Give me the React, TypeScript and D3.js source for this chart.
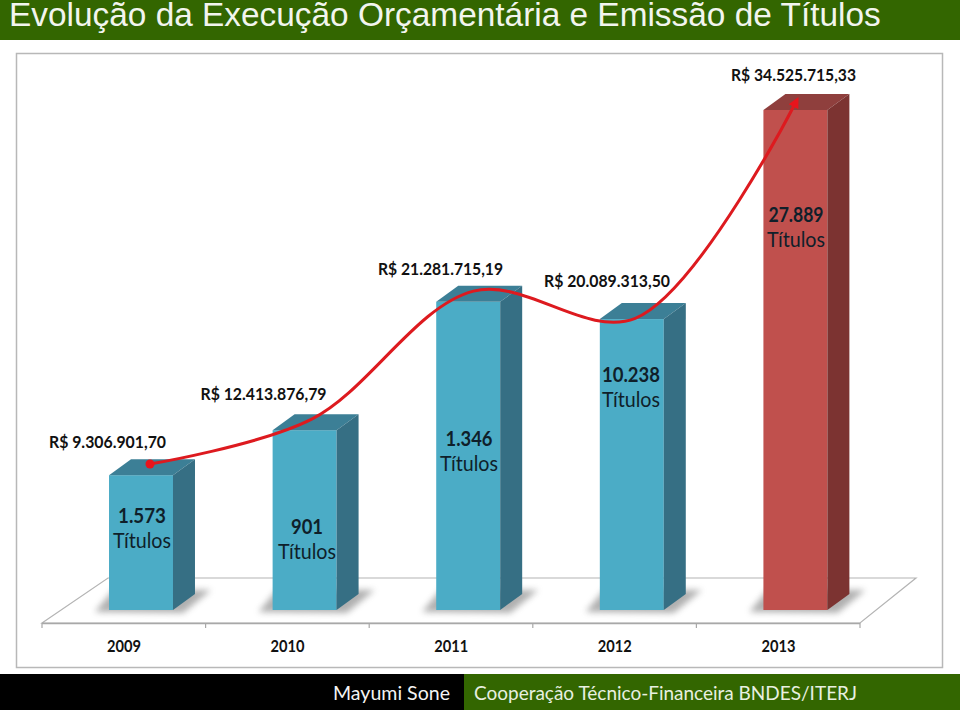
import React from 'react';
import * as d3 from 'd3';

const years = ['2009', '2010', '2011', '2012', '2013'];
const amounts = [9306901.7, 12413876.79, 21281715.19, 20089313.5, 34525715.33];
// Red curve as drawn in the picture: it dips a little below the 2012 amount.
const curveValues = [9306901.7, 12413876.79, 21281715.19, 19400000, 34525715.33];
const amountLabels = ['R$ 9.306.901,70', 'R$ 12.413.876,79', 'R$ 21.281.715,19', 'R$ 20.089.313,50', 'R$ 34.525.715,33'];
const titleCounts = ['1.573', '901', '1.346', '10.238', '27.889'];
const faceColors = ['#4bacc6', '#4bacc6', '#4bacc6', '#4bacc6', '#c0504d'];
const topColors = ['#3c7f96', '#3c7f96', '#3c7f96', '#3c7f96', '#8f3f3d'];
const sideColors = ['#366f84', '#366f84', '#366f84', '#366f84', '#7c3331'];
const amountLabelPos = [[107.5, 442], [263.5, 394], [440.5, 269], [607, 281], [793.5, 75]];
const amountLabelWidths = [117, 126, 125, 126, 125];
const countLabelPos = [[142, 523], [307, 534], [469, 446], [631, 382], [796, 222]];
const countWidths = [48, 32, 47, 58, 55];

const FONT = 'Lato, Carlito, "Open Sans", sans-serif';
const DX = 22;
const DY = -16;
const BASE = 610;

const x = d3.scaleBand<string>().domain(years).range([59.2, 877.2]).paddingInner(0.609).paddingOuter(0.3045);
const y = d3.scaleLinear().domain([0, 34525715.33]).range([BASE, 110]);
const lineX = d3.scalePoint<string>().domain(years).range([150, 797]);
const lineY = d3.scaleLinear().domain([9306901.7, 34525715.33]).range([464, 100]);
const lineGen = d3.line<number>()
  .x((_, i) => lineX(years[i]) as number)
  .y((d) => lineY(d))
  .curve(d3.curveCatmullRom.alpha(0.5));

export default function App() {
  const bw = x.bandwidth();
  const lineD = lineGen(curveValues) as string;
  const ticks = d3.range(6).map((i) => 42 + (i * 818) / 5);
  return (
    <svg width={960} height={710} style={{ position: 'absolute', left: 0, top: 0, background: '#fff' }} fontFamily={FONT}>
      <defs>
        <filter id="blur" x="-30%" y="-60%" width="160%" height="220%">
          <feGaussianBlur stdDeviation="3" />
        </filter>
        <marker id="arrow" viewBox="0 0 10 10" refX="7" refY="5" markerWidth="3.6" markerHeight="3.6" orient="auto-start-reverse">
          <path d="M0,0L10,5L0,10Z" fill="#e8141c" />
        </marker>
      </defs>

      <rect x={0} y={0} width={960} height={40} fill="#336600" />
      <text x={9} y={26} fontFamily='"Liberation Sans", Arial, sans-serif' fontSize={33.4} fill="#f2f5ee">
        Evolução da Execução Orçamentária e Emissão de Títulos
      </text>

      <rect x={16.5} y={53.5} width={926} height={614} fill="#fff" stroke="#b8b8b8" strokeWidth={1.5} />

      <path d="M42,623L108,578L916,578L860,623Z" fill="#fff" stroke="#b4b4b4" strokeWidth={1.2} />
      <path d="M42,623.5H860" stroke="#a8a8a8" strokeWidth={1.6} fill="none" />
      {ticks.map((t) => (
        <line key={t} x1={t} x2={t} y1={623} y2={628} stroke="#a8a8a8" strokeWidth={1.2} />
      ))}

      {years.map((yr, i) => {
        const x0 = x(yr) as number;
        const top = y(amounts[i]);
        return (
          <g key={yr}>
            <path
              d={`M${x0 - 14},${BASE + 2}L${x0 + 4},${BASE - 20}H${x0 + bw + 38}L${x0 + bw + 10},${BASE + 3}Z`}
              fill="#6f6f6f"
              opacity={0.55}
              filter="url(#blur)"
            />
            <rect x={x0} y={top} width={bw} height={BASE - top} fill={faceColors[i]} />
            <path d={`M${x0},${top}l${DX},${DY}h${bw}l${-DX},${-DY}Z`} fill={topColors[i]} />
            <path d={`M${x0 + bw},${top}l${DX},${DY}V${BASE + DY}l${-DX},${-DY}Z`} fill={sideColors[i]} />
            <text x={x0 + bw / 2 - 17} y={652} textAnchor="middle" fontSize={17} textLength={34} lengthAdjust="spacingAndGlyphs" fontWeight={700} fill="#111">{yr}</text>
          </g>
        );
      })}

      <path d={lineD} fill="none" stroke="#dd1a1f" strokeWidth={3} markerEnd="url(#arrow)" />
      <circle cx={lineX(years[0]) as number} cy={lineY(amounts[0])} r={4.5} fill="#e8141c" />

      {amountLabels.map((t, i) => (
        <text key={t} x={amountLabelPos[i][0]} y={amountLabelPos[i][1] + 6} textAnchor="middle" fontSize={17} textLength={amountLabelWidths[i]} lengthAdjust="spacingAndGlyphs" fontWeight={700} fill="#111">{t}</text>
      ))}
      {titleCounts.map((t, i) => (
        <g key={t} textAnchor="middle" fill="#0f1f2a">
          <text x={countLabelPos[i][0]} y={countLabelPos[i][1]} fontSize={21} textLength={countWidths[i]} lengthAdjust="spacingAndGlyphs" fontWeight={700}>{t}</text>
          <text x={countLabelPos[i][0]} y={countLabelPos[i][1] + 25} fontSize={20.5} textLength={58} lengthAdjust="spacingAndGlyphs">Títulos</text>
        </g>
      ))}

      <rect x={0} y={674} width={960} height={36} fill="#000" />
      <rect x={464} y={674} width={496} height={36} fill="#336600" />
      <text x={391.5} y={700} textAnchor="middle" fontSize={20} textLength={117} lengthAdjust="spacingAndGlyphs" fill="#f4f4f4">Mayumi Sone</text>
      <text x={665.5} y={700} textAnchor="middle" fontSize={20} textLength={383} lengthAdjust="spacingAndGlyphs" fill="#e8f0e0">Cooperação Técnico-Financeira BNDES/ITERJ</text>
    </svg>
  );
}
